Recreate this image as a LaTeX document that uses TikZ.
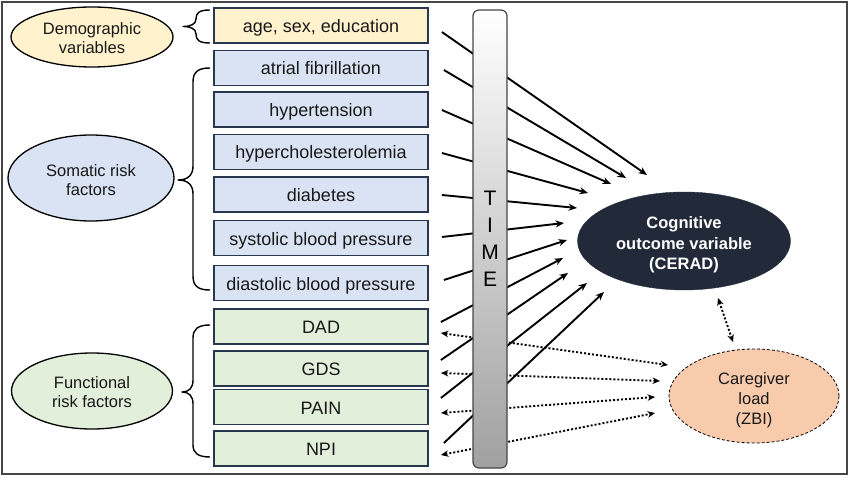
\documentclass[tikz,border=0pt]{standalone}
\usepackage{fontspec}
\setmainfont{Liberation Sans}
\usetikzlibrary{shapes.geometric,arrows.meta,calc}
\definecolor{boxline}{RGB}{40,54,78}
\definecolor{yel}{RGB}{255,242,204}
\definecolor{blu}{RGB}{218,227,243}
\definecolor{grn}{RGB}{226,239,218}
\definecolor{peach}{RGB}{248,203,173}
\definecolor{navy}{RGB}{34,42,58}
\definecolor{framec}{RGB}{70,70,70}
\definecolor{bargray}{RGB}{160,160,160}
\definecolor{txt}{RGB}{25,25,25}
\begin{document}
\begin{tikzpicture}[x=1pt,y=-1pt,
 factor/.style={draw=boxline,line width=1.8pt,minimum width=214pt,minimum height=35pt,inner sep=0pt,text height=14pt,text depth=0pt,text=txt,font=\fontsize{18}{21}\selectfont},
 grp/.style={ellipse,draw=black,line width=1.3pt,inner sep=0pt,align=center,text=txt,font=\fontsize{16.5}{19}\selectfont},
 brc/.style={line width=1.4pt,line join=round},
 eff/.style={line width=1.9pt,-{Stealth[length=8.5pt,width=7pt]}},
 assoc/.style={line width=1.9pt,dash pattern=on 2pt off 2pt,{Stealth[length=7.5pt,width=6.5pt]}-{Stealth[length=7.5pt,width=6.5pt]}},
 timebar/.style={rectangle,rounded corners=6pt,draw=framec,line width=1.2pt,top color=white,bottom color=bargray,minimum width=34pt,minimum height=458pt,inner sep=0pt,align=center,font=\fontsize{21}{27}\selectfont}
]
\useasboundingbox (0,0) rectangle (850,478);
\draw[framec,line width=1.6pt] (2,2) rectangle (847,474);

% group ellipses
\node[grp,fill=yel,minimum width=162pt,minimum height=60pt] (demo) at (92,37) {\rule{0pt}{14pt}Demographic\\variables};
\node[grp,fill=blu,minimum width=166pt,minimum height=86pt] (soma) at (91,178) {\rule{0pt}{16pt}Somatic risk\\factors};
\node[grp,fill=grn,minimum width=161pt,minimum height=76pt] (func) at (92,391) {\rule{0pt}{15pt}Functional\\risk factors};

% factor boxes
\node[factor,fill=yel] (age) at (321,25.5) {age, sex, education};
\node[factor,fill=blu] (af) at (321,68) {atrial fibrillation};
\node[factor,fill=blu] (ht) at (321,109.5) {hypertension};
\node[factor,fill=blu] (hc) at (321,152) {hypercholesterolemia};
\node[factor,fill=blu] (db) at (321,194.5) {diabetes};
\node[factor,fill=blu] (sbp) at (321,238) {systolic blood pressure};
\node[factor,fill=blu] (dbp) at (321,283) {diastolic blood pressure};
\node[factor,fill=grn] (dad) at (321,326.5) {DAD};
\node[factor,fill=grn] (gds) at (321,368.5) {GDS};
\node[factor,fill=grn] (pain) at (321,407) {PAIN};
\node[factor,fill=grn] (npi) at (321,448.5) {NPI};

% braces
\draw[brc] (210,10) .. controls (199,10) and (196,13) .. (196,19) .. controls (196,24) and (191,26.5) .. (183,26.5) .. controls (191,26.5) and (196,29) .. (196,34) .. controls (196,40) and (199,43) .. (210,43);
\draw[brc] (210,68) .. controls (198,68) and (193,72) .. (193,82) -- (193,166) .. controls (193,175) and (188,180) .. (178,180) .. controls (188,180) and (193,185) .. (193,194) -- (193,276) .. controls (193,286) and (198,290) .. (210,290);
\draw[brc] (210,325) .. controls (198,325) and (193,329) .. (193,338) -- (193,380) .. controls (193,388) and (189,392) .. (182,392) .. controls (189,392) and (193,396) .. (193,404) -- (193,445) .. controls (193,453) and (198,457) .. (210,457);

% outcome ellipses
\node[ellipse,fill=navy,draw=navy,minimum width=213pt,minimum height=98pt,inner sep=0pt,align=center,text=white,font=\bfseries\fontsize{16.5}{20.5}\selectfont] (cog) at (684,241) {\rule{0pt}{20pt}Cognitive\\outcome variable\\(CERAD)};
\node[ellipse,fill=peach,draw=black,line width=0.8pt,dash pattern=on 3pt off 2pt,minimum width=170pt,minimum height=94pt,inner sep=0pt,align=center,text=txt,font=\fontsize{16.5}{20}\selectfont] (care) at (754,396) {\rule{0pt}{20pt}Caregiver\\load\\(ZBI)};

% arrow end points
\coordinate (e1) at (647,175);
\coordinate (e2) at (626,178);
\coordinate (e3) at (611,184);
\coordinate (e4) at (588,193);
\coordinate (e5) at (577,208);
\coordinate (e6) at (564,223);
\coordinate (e7) at (567,240);
\coordinate (e8) at (563,258);
\coordinate (e9) at (568,273);
\coordinate (e10) at (587,283);
\coordinate (e11) at (604,292);
\coordinate (d1) at (668,365);
\coordinate (d2) at (660,381);
\coordinate (d3) at (655,397);
\coordinate (d4) at (655,413);
\coordinate (c1) at (718,298);
\coordinate (c2) at (733,342);

% solid arrows
\draw[eff] ($(age.east)+(13,6.5)$) -- (e1);
\draw[eff] ($(af.east)+(15,2)$) -- (e2);
\draw[eff] ($(ht.east)+(13,0.5)$) -- (e3);
\draw[eff] ($(hc.east)+(13,1)$) -- (e4);
\draw[eff] ($(db.east)+(13,0.5)$) -- (e5);
\draw[eff] ($(sbp.east)+(13,-1)$) -- (e6);
\draw[eff] ($(dbp.east)+(15,-3)$) -- (e7);
\draw[eff] ($(dad.east)+(12,-4.5)$) -- (e8);
\draw[eff] ($(gds.east)+(12,-8.5)$) -- (e9);
\draw[eff] ($(pain.east)+(12,-9)$) -- (e10);
\draw[eff] ($(npi.east)+(15,-5.5)$) -- (e11);

% dotted associations
\draw[assoc] ($(dad.east)+(12,6.5)$) -- (d1);
\draw[assoc] ($(gds.east)+(12,4.5)$) -- (d2);
\draw[assoc] ($(pain.east)+(12,6)$) -- (d3);
\draw[assoc] ($(npi.east)+(12,6.5)$) -- (d4);
\draw[assoc] (c1) -- (c2);

% time bar
\node[timebar] (time) at (490,239) {T\\I\\M\\E};
\end{tikzpicture}
\end{document}
